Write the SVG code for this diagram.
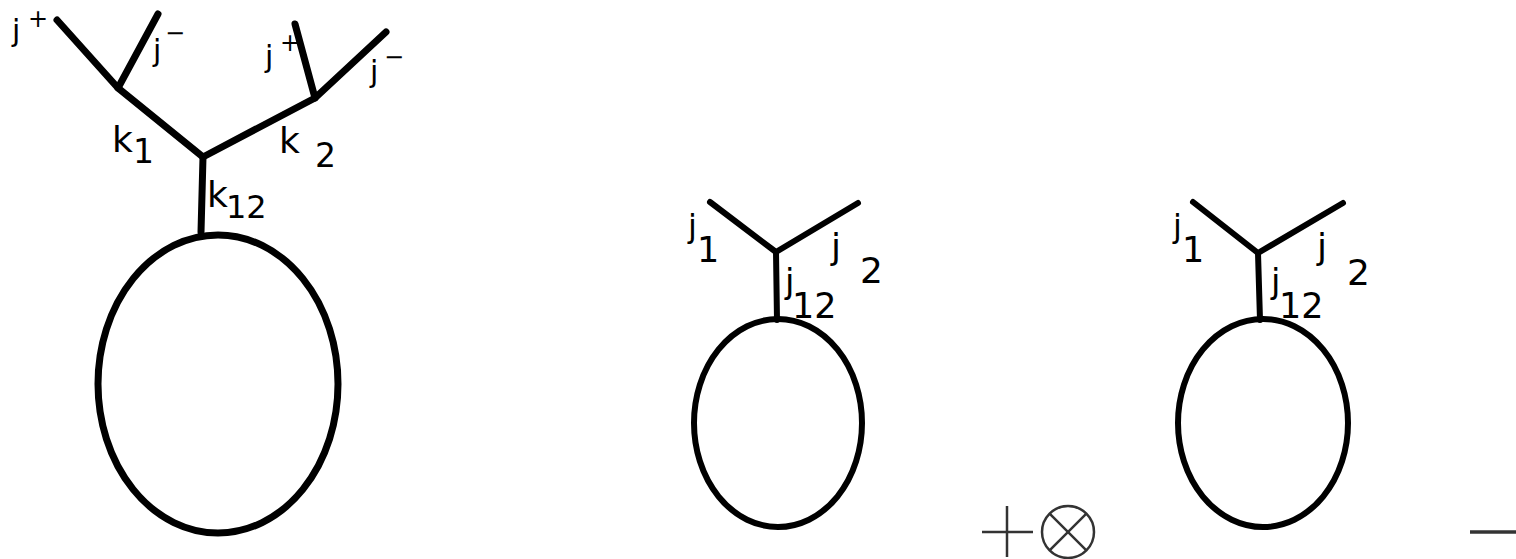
<svg xmlns="http://www.w3.org/2000/svg" width="1516" height="559" viewBox="0 0 1516 559">
<style>
.e{fill:none;stroke:#000;stroke-width:6;stroke-linecap:round;stroke-linejoin:round}
.w{stroke-width:7}
.t{font-family:"DejaVu Sans",sans-serif;fill:#000}
.op{fill:none;stroke:#333;stroke-width:2.5}
</style>
<rect width="1516" height="559" fill="#fff"/>
<g id="connectors">
<polyline class="e w" points="57,20 118,88 203,157 315,98 386,32"/>
<line class="e w" x1="158" y1="14" x2="118" y2="88"/>
<line class="e w" x1="295" y1="24" x2="315" y2="98"/>
<line class="e w" x1="203" y1="157" x2="201" y2="232"/>
<polyline class="e" points="710,202 776,252 858,203"/>
<line class="e" x1="776" y1="252" x2="777" y2="320"/>
<polyline class="e" points="1193,202 1258,253 1343,203"/>
<line class="e" x1="1258" y1="253" x2="1260" y2="320"/>
</g>
<g id="loop1"><ellipse class="e w" cx="218" cy="384" rx="120" ry="149"/></g>
<g id="loop2"><ellipse class="e" cx="778" cy="423" rx="84" ry="104"/></g>
<g id="loop3"><ellipse class="e" cx="1263" cy="423" rx="85" ry="104"/></g>
<g id="labels1" class="t">
<text x="12" y="41" font-size="30">j</text><text x="28" y="27" font-size="24">+</text>
<text x="153" y="61" font-size="30">j</text><text x="165" y="41" font-size="24">−</text>
<text x="265" y="67" font-size="30">j</text><text x="280" y="51" font-size="24">+</text>
<text x="370" y="82" font-size="30">j</text><text x="384" y="65" font-size="24">−</text>
<text x="112" y="152" font-size="36">k</text><text x="133" y="163" font-size="33">1</text>
<text x="279" y="153" font-size="36">k</text><text x="315" y="167" font-size="33">2</text>
<text x="207" y="207" font-size="36">k</text><text x="226" y="218" font-size="32">12</text>
</g>
<g id="labels2" class="t">
<text x="688" y="237" font-size="32">j</text><text x="697" y="262" font-size="35">1</text>
<text x="831" y="259" font-size="36">j</text><text x="860" y="283" font-size="36">2</text>
<text x="785" y="293" font-size="34">j</text><text x="792" y="318" font-size="35">12</text>
</g>
<g id="labels3" class="t">
<text x="1173" y="237" font-size="32">j</text><text x="1182" y="262" font-size="35">1</text>
<text x="1317" y="259" font-size="36">j</text><text x="1347" y="285" font-size="36">2</text>
<text x="1271" y="293" font-size="34">j</text><text x="1279" y="318" font-size="35">12</text>
</g>
<g id="plus-otimes">
<line class="op" x1="982" y1="532" x2="1033" y2="532"/>
<line class="op" x1="1007" y1="506" x2="1007" y2="557"/>
<circle class="op" cx="1068" cy="532" r="26"/>
<line class="op" x1="1049.6" y1="513.6" x2="1086.4" y2="550.4"/>
<line class="op" x1="1086.4" y1="513.6" x2="1049.6" y2="550.4"/>
</g>
<g id="minus"><line stroke="#333" stroke-width="3.5" x1="1470" y1="532" x2="1516" y2="532"/></g>
</svg>
